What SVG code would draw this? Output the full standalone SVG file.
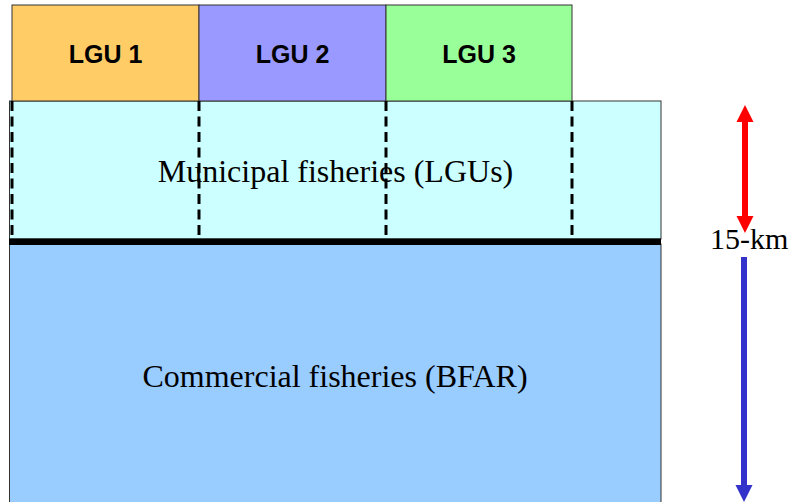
<svg xmlns="http://www.w3.org/2000/svg" width="795" height="502" viewBox="0 0 795 502">
  <style>
    .zone { stroke: #333; stroke-width: 1; }
    .lgu-label { font-family: "Liberation Sans", Arial, sans-serif; font-weight: bold; font-size: 25px; text-anchor: middle; fill: #000; }
    .zone-label { font-family: "Liberation Serif", "Times New Roman", serif; font-size: 32px; text-anchor: middle; fill: #000; }
    .scale-label { font-family: "Liberation Serif", "Times New Roman", serif; font-size: 30px; fill: #000; }
    .boundary { stroke: #000; stroke-width: 3; stroke-dasharray: 10 5.5; fill: none; }
  </style>

  <!-- Commercial fisheries zone -->
  <g id="commercial">
    <rect class="zone" x="9.5" y="244" width="651.5" height="262" fill="#99ccff"/>
    <text class="zone-label" x="335" y="387">Commercial fisheries (BFAR)</text>
  </g>

  <!-- Municipal fisheries zone -->
  <g id="municipal">
    <rect class="zone" x="9.5" y="101" width="651.5" height="138" fill="#ccffff"/>
    <text class="zone-label" x="335.5" y="182">Municipal fisheries (LGUs)</text>
  </g>

  <!-- Local government units -->
  <g id="lgu1">
    <rect class="zone" x="12" y="5" width="187" height="96" fill="#ffcc66"/>
    <text class="lgu-label" x="105.5" y="63">LGU 1</text>
  </g>
  <g id="lgu2">
    <rect class="zone" x="199" y="5" width="187" height="96" fill="#9999ff"/>
    <text class="lgu-label" x="292.5" y="63">LGU 2</text>
  </g>
  <g id="lgu3">
    <rect class="zone" x="386" y="5" width="186" height="96" fill="#99ff99"/>
    <text class="lgu-label" x="479" y="63">LGU 3</text>
  </g>

  <!-- Boundaries and scale -->
  <g id="connectors">
    <line class="boundary" x1="12" y1="101" x2="12" y2="238"/>
    <line class="boundary" x1="199" y1="101" x2="199" y2="238"/>
    <line class="boundary" x1="386" y1="101" x2="386" y2="238"/>
    <line class="boundary" x1="572" y1="101" x2="572" y2="238"/>

    <!-- 15-km limit line -->
    <rect x="9" y="238.5" width="652" height="6.5" fill="#000"/>

    <!-- red double arrow -->
    <line x1="745" y1="118" x2="745" y2="220" stroke="#ff0000" stroke-width="6"/>
    <path d="M745,105 L753.5,122 L736.5,122 Z" fill="#ff0000"/>
    <path d="M745,233 L753.5,216 L736.5,216 Z" fill="#ff0000"/>

    <!-- blue arrow -->
    <line x1="744" y1="257" x2="744" y2="490" stroke="#3333cc" stroke-width="6"/>
    <path d="M744,502 L752.5,485 L735.5,485 Z" fill="#3333cc"/>
  </g>

  <g id="scale">
    <text class="scale-label" x="710" y="249">15-km</text>
  </g>
</svg>
